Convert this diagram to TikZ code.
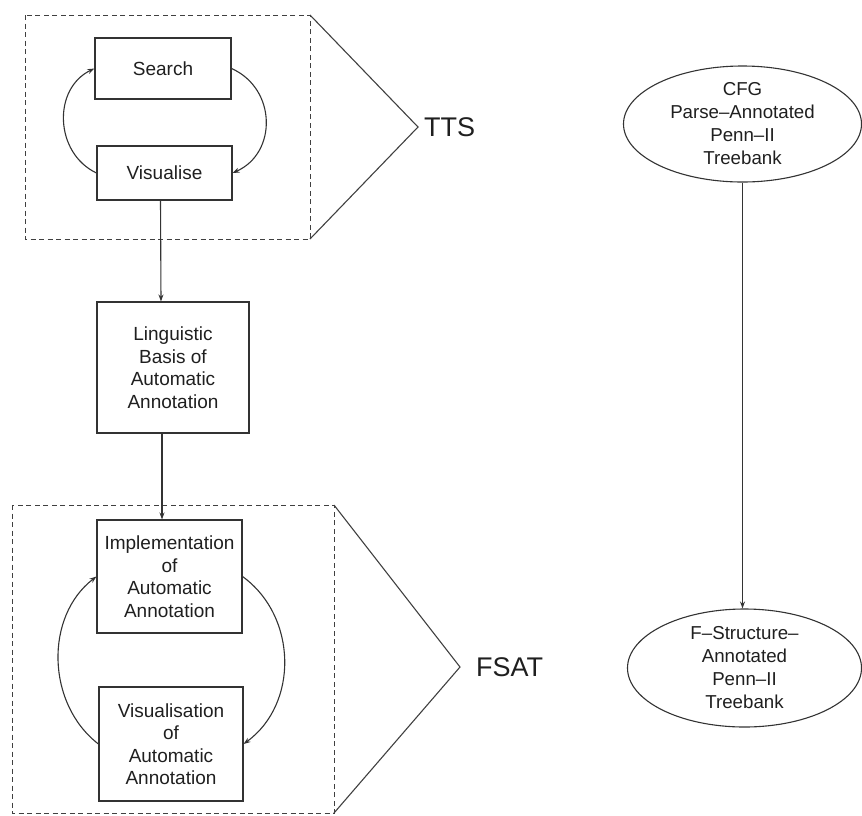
\documentclass[tikz,border=0pt]{standalone}
\usepackage{fontspec}
\setmainfont{Liberation Sans}
\usetikzlibrary{arrows.meta,shapes.geometric,calc}
\begin{document}
\begin{tikzpicture}[x=1pt,y=-1pt,
  box/.style={draw=black!80, line width=1.1pt, rectangle, align=center, inner sep=0pt,
    font=\fontsize{19}{22.5}\selectfont, text=black!88},
  oval/.style={draw=black!80, line width=1.1pt, ellipse, align=center, inner xsep=0pt, inner ysep=-6pt,
    font=\fontsize{18.7}{23}\selectfont, text=black!88},
  frame/.style={draw=black!75, line width=1pt, dash pattern=on 5pt off 3.5pt},
  chev/.style={draw=black!75, line width=1.1pt, line join=miter},
  arr/.style={draw=black!80, line width=1.1pt, -{Stealth[length=7pt,width=5pt]}},
  tag/.style={font=\fontsize{27}{30}\selectfont, anchor=west, inner sep=0pt, text=black!88}
]
\useasboundingbox (0,0) rectangle (862,815);

% ---- TTS group ----
\draw[frame] (25,15) rectangle (310,239);
\coordinate (ttsTop) at (310,15);
\coordinate (ttsTip) at (418,127);
\coordinate (ttsBot) at (310,239);
\draw[chev] (ttsTop) -- (ttsTip) -- (ttsBot);
\node[tag] (tts) at (424,127) {TTS};

\node[box, minimum width=136pt, minimum height=61pt] (search) at (163,68.5) {Search};
\node[box, minimum width=135pt, minimum height=54pt] (vis) at (164.5,173) {Visualise};

\draw[arr] (vis.west) .. controls +(-42,-20) and +(-42,20) .. (search.west);
\draw[arr] (search.east) .. controls +(45,20) and +(45,-20) .. (vis.east);

% ---- middle step ----
\node[box, minimum width=152pt, minimum height=131pt] (ling) at (173,367.5)
  {Linguistic\\Basis of\\Automatic\\Annotation};

\draw[arr] ([xshift=-4pt]vis.south) -- ([xshift=-12pt]ling.north);

% ---- FSAT group ----
\draw[frame] (12,505) rectangle (334,813);
\coordinate (fsTop) at (334,505);
\coordinate (fsTip) at (460,667);
\coordinate (fsBot) at (334,813);
\draw[chev] (fsTop) -- (fsTip) -- (fsBot);
\node[tag] (fsat) at (476,667) {FSAT};

\node[box, minimum width=145pt, minimum height=113pt] (impl) at (169.5,576.5)
  {Implementation\\of\\Automatic\\Annotation};
\node[box, minimum width=144pt, minimum height=114pt] (vis2) at (171,744)
  {Visualisation\\of\\Automatic\\Annotation};

\draw[arr] ([xshift=-11pt]ling.south) -- ([xshift=-7.5pt]impl.north);
\draw[arr] (vis2.west) .. controls +(-52,-40) and +(-52,40) .. (impl.west);
\draw[arr] (impl.east) .. controls +(55,40) and +(55,-40) .. (vis2.east);

% ---- treebanks ----
\node[oval, minimum width=238pt, minimum height=116pt] (cfg) at (742.5,124)
  {CFG\\Parse–Annotated\\Penn–II\\Treebank};
\node[oval, minimum width=234pt, minimum height=118pt] (fstr) at (744.5,668)
  {F–Structure–\\Annotated\\Penn–II\\Treebank};

\draw[arr] (cfg.south) -- (cfg.south |- fstr.north);
\end{tikzpicture}
\end{document}
